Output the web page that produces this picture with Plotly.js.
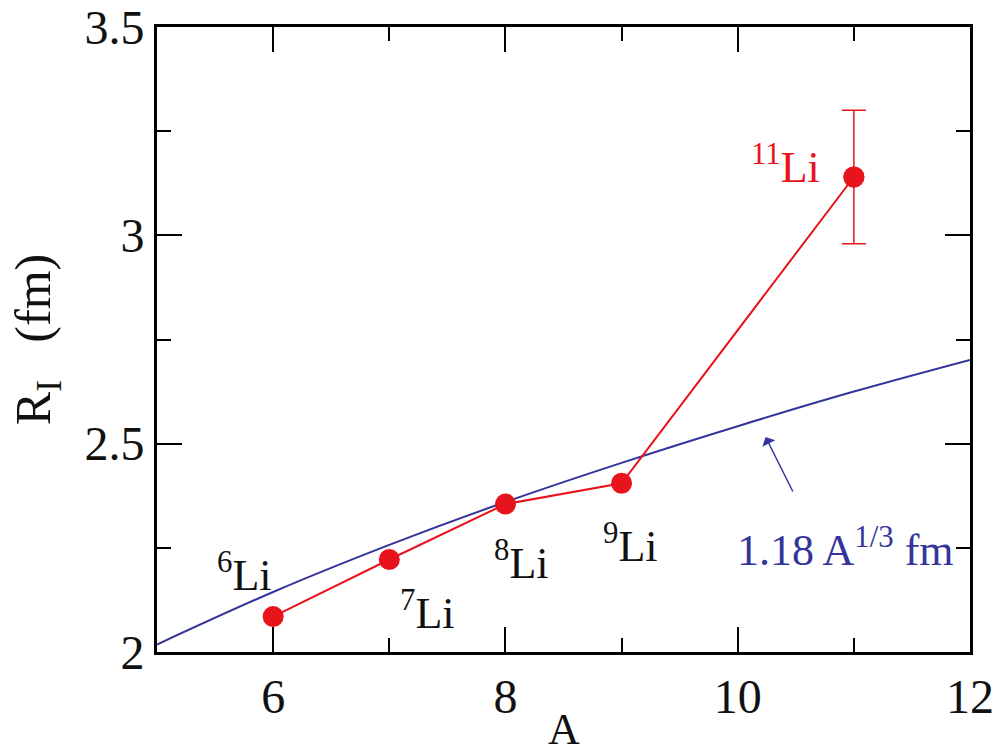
<!DOCTYPE html>
<html>
<head>
<meta charset="utf-8">
<script src="https://cdn.plot.ly/plotly-3.0.1.min.js"></script>
<style>
  body { margin: 0; background: #fff; }
  #chart { width: 1007px; height: 756px; }
</style>
</head>
<body>
<div id="chart"></div>
<script>
// lithium isotopes: mass number and measured radius
const massNumber = [6, 7, 8, 9, 11];
const radius = [2.085, 2.222, 2.355, 2.405, 3.14];
const radiusErr = [0, 0, 0, 0, 0.16];
const isotopeLabels = ['6', '7', '8', '9', '11'];

// 1.18 A^(1/3) curve
const curveA = [5, 6, 7, 8, 9, 10, 11, 12];
const curveR = [2.018, 2.144, 2.257, 2.36, 2.454, 2.542, 2.625, 2.701];

const RED = '#e8141c';
const BLUE = '#34359a';
const FONT = '"Liberation Serif", "Times New Roman", serif';

const curve = {
    type: 'scatter',
    x: curveA,
    y: curveR,
    mode: 'lines',
    line: {color: BLUE, width: 2, shape: 'spline'},
    showlegend: false,
    hoverinfo: 'skip'
};

const points = {
    type: 'scatter',
    x: massNumber,
    y: radius,
    mode: 'lines+markers',
    line: {color: RED, width: 2},
    marker: {color: RED, size: 21},
    showlegend: false
};

// error bar only on the last point
const last = massNumber.length - 1;
const errPoint = {
    type: 'scatter',
    x: [massNumber[last]],
    y: [radius[last]],
    mode: 'markers',
    marker: {color: RED, size: 21},
    error_y: {type: 'data', array: [radiusErr[last]], visible: true, color: RED, thickness: 1.5, width: 12},
    showlegend: false
};

// label positions (data coords)
const labelX = [5.75, 7.33, 8.14, 9.08, 10.41];
const labelY = [2.19, 2.10, 2.22, 2.26, 3.17];

const annotations = isotopeLabels.map((n, i) => ({
    x: labelX[i], y: labelY[i], xref: 'x', yref: 'y',
    text: '<sup>' + n + '</sup>Li',
    showarrow: false,
    font: {family: FONT, size: 44, color: i === last ? RED : '#111'}
}));

annotations.push({
    x: 10.93, y: 2.25, xref: 'x', yref: 'y',
    text: '1.18 A<sup>1/3</sup> fm',
    showarrow: false,
    font: {family: FONT, size: 44, color: BLUE}
});

annotations.push({
    x: 10.24, y: 2.516, xref: 'x', yref: 'y',
    ax: 28, ay: 56,
    text: '',
    showarrow: true,
    arrowhead: 1,
    arrowsize: 1.6,
    arrowwidth: 1.5,
    arrowcolor: BLUE
});

// x axis title placed by hand so it is not clipped at the bottom edge
annotations.push({
    x: 0.5, y: -0.166, xref: 'paper', yref: 'paper',
    yanchor: 'bottom',
    text: 'A',
    showarrow: false,
    font: {family: FONT, size: 44, color: '#111'}
});

const axisCommon = {
    showline: true,
    linecolor: '#000',
    linewidth: 3,
    mirror: 'ticks',
    ticks: 'inside',
    ticklen: 25,
    tickwidth: 2,
    tickcolor: '#000',
    showgrid: false,
    zeroline: false,
    tickfont: {family: FONT, size: 48, color: '#111'}
};

const layout = {
    width: 1007,
    height: 756,
    paper_bgcolor: '#fff',
    plot_bgcolor: '#fff',
    margin: {l: 157, r: 37, t: 27, b: 104},
    xaxis: Object.assign({}, axisCommon, {
        range: [5, 12],
        tickvals: [6, 8, 10, 12],
        minor: {tickvals: [7, 9, 11], ticks: 'inside', ticklen: 14, tickwidth: 2, tickcolor: '#000'}
    }),
    yaxis: Object.assign({}, axisCommon, {
        range: [2, 3.5],
        tickvals: [2, 2.5, 3, 3.5],
        ticktext: ['2', '2.5', '3', '3.5'],
        minor: {tickvals: [2.25, 2.75, 3.25], ticks: 'inside', ticklen: 14, tickwidth: 2, tickcolor: '#000'},
        title: {text: 'R<sub>I</sub>   (fm)', font: {family: FONT, size: 50, color: '#111'}, standoff: 18}
    }),
    annotations: annotations
};

Plotly.newPlot('chart', [curve, points, errPoint], layout, {displayModeBar: false, staticPlot: true});
</script>
</body>
</html>
